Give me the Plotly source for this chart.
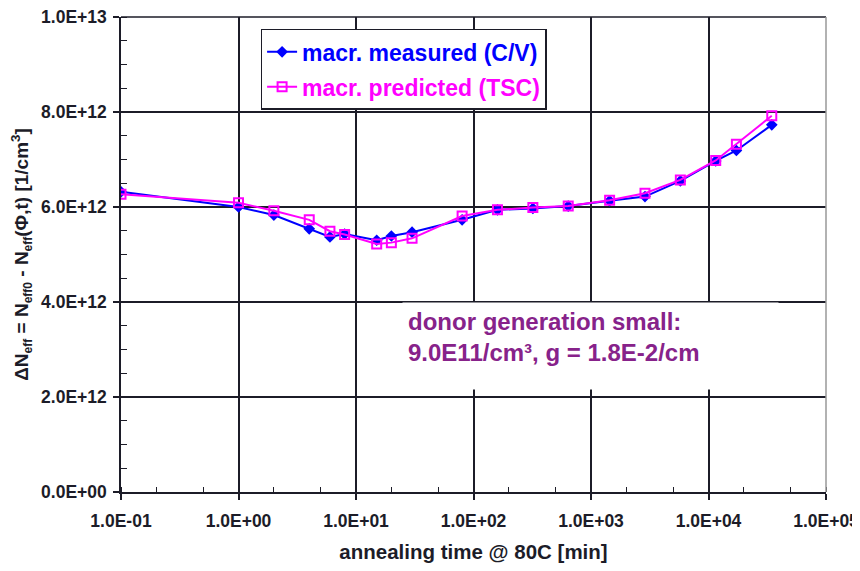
import plotly.graph_objects as go

# ---- data ----
time_min = [0.1, 1, 2, 4, 6, 8, 15, 20, 30, 80, 160, 320, 640, 1440, 2880, 5760, 11520, 17280, 34560]
measured_e12 = [6.32, 6.00, 5.83, 5.54, 5.37, 5.43, 5.30, 5.39, 5.47, 5.73, 5.94, 5.97, 6.02, 6.13, 6.22, 6.55, 6.97, 7.19, 7.73]
predicted_e12 = [6.27, 6.09, 5.92, 5.73, 5.49, 5.42, 5.22, 5.25, 5.34, 5.81, 5.94, 5.99, 6.02, 6.14, 6.29, 6.57, 6.98, 7.32, 7.92]
measured = [v * 1e12 for v in measured_e12]
predicted = [v * 1e12 for v in predicted_e12]

x_tickvals = [0.1, 1, 10, 100, 1000, 10000, 100000]
y_tickvals = [0, 2e12, 4e12, 6e12, 8e12, 1e13]
x_ticktext = ["<b>{:.1E}</b>".format(v) for v in x_tickvals]
y_ticktext = ["<b>{:.1E}</b>".format(v) for v in y_tickvals]

FONT = "Liberation Sans, Arial, sans-serif"
INK = "#1c1c28"
BLUE = "#0000FF"
MAGENTA = "#FF00FF"
PURPLE = "#87228A"

fig = go.Figure()
fig.add_trace(go.Scatter(
    x=time_min, y=measured, mode="lines+markers",
    name="<span style='color:#0000FF'><b>macr. measured (C/V)</b></span>",
    line=dict(color=BLUE, width=2),
    marker=dict(symbol="diamond", size=9, color=BLUE),
    legendgroup="a",
))
fig.add_trace(go.Scatter(
    x=time_min, y=predicted, mode="lines+markers",
    name="<span style='color:#FF00FF'><b>macr. predicted (TSC)</b></span>",
    line=dict(color=MAGENTA, width=2),
    marker=dict(symbol="square-open", size=9, color=MAGENTA, line=dict(width=2)),
    legendgroup="b",
))

fig.add_annotation(
    xref="paper", yref="paper", x=0.3986, y=0.40, xanchor="left", yanchor="top",
    text="<b>donor generation small:<br>9.0E11/cm³, g = 1.8E-2/cm</b>",
    showarrow=False, align="left", valign="top",
    width=365, height=76,
    font=dict(family=FONT, size=24, color=PURPLE),
    bgcolor="white", borderpad=5,
)

fig.update_layout(
    width=852, height=555,
    margin=dict(l=113, r=34, t=9, b=71, autoexpand=False),
    paper_bgcolor="white", plot_bgcolor="white",
    font=dict(family=FONT, color=INK),
    showlegend=True,
    legend=dict(
        x=0.198, y=0.975, xanchor="left", yanchor="top",
        bgcolor="white", bordercolor=INK, borderwidth=1.5,
        font=dict(family=FONT, size=23),
        tracegroupgap=2, traceorder="grouped",
        itemwidth=30,
    ),
    xaxis=dict(
        type="log", range=[-1, 5], automargin=False,
        tickvals=x_tickvals, ticktext=x_ticktext,
        tickfont=dict(family=FONT, size=17.5, color=INK),
        ticklabelstandoff=6, ticklabeloverflow="allow",
        showgrid=True, gridcolor=INK, gridwidth=1.5,
        showline=True, linecolor=INK, linewidth=1.5, mirror=False,
        ticks="outside", ticklen=6, tickwidth=1.5, tickcolor=INK,
        minor=dict(ticks="inside", ticklen=5, tickwidth=1, tickcolor=INK, showgrid=False),
        zeroline=False,
        title=dict(text="<b>annealing time @ 80C [min]</b>", font=dict(family=FONT, size=20.5, color=INK), standoff=22),
    ),
    yaxis=dict(
        range=[0, 1e13], automargin=False,
        tickvals=y_tickvals, ticktext=y_ticktext,
        tickfont=dict(family=FONT, size=17.5, color=INK),
        ticklabelstandoff=3, ticklabeloverflow="allow",
        showgrid=True, gridcolor=INK, gridwidth=1.5,
        showline=True, linecolor=INK, linewidth=1.5,
        ticks="outside", ticklen=6, tickwidth=1.5, tickcolor=INK,
        minor=dict(dtick=5e11, ticks="inside", ticklen=6, tickwidth=1, tickcolor=INK, showgrid=False),
        zeroline=False,
        title=dict(text="<b>ΔN<sub><span style='font-size:12px'>eff</span></sub> = N<sub><span style='font-size:12px'>eff0</span></sub> - N<sub><span style='font-size:12px'>eff</span></sub>(Φ,t) [1/cm<sup>3</sup>]</b>",
                   font=dict(family=FONT, size=19, color=INK), standoff=11),
    ),
)

# top edge line (1.0E+13 grid) and right border of the plot area
fig.add_shape(type="line", xref="paper", yref="paper", x0=0, x1=1, y0=1, y1=1,
              line=dict(color=INK, width=1.5))
fig.add_shape(type="line", xref="paper", yref="paper", x0=1, x1=1, y0=0, y1=1,
              line=dict(color="#999999", width=1.5))

fig.write_html("out.html")
